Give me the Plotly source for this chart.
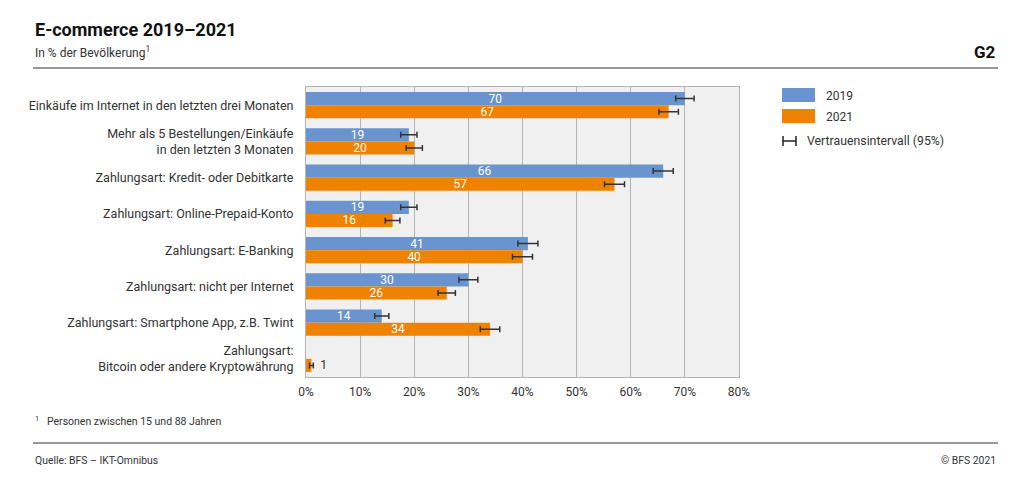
import plotly.graph_objects as go

categories = [
    "Einkäufe im Internet in den letzten drei Monaten",
    "Mehr als 5 Bestellungen/Einkäufe<br>in den letzten 3 Monaten",
    "Zahlungsart: Kredit- oder Debitkarte",
    "Zahlungsart: Online-Prepaid-Konto",
    "Zahlungsart: E-Banking",
    "Zahlungsart: nicht per Internet",
    "Zahlungsart: Smartphone App, z.B. Twint",
    "Zahlungsart:<br>Bitcoin oder andere Kryptowährung",
]
values_2019 = [70, 19, 66, 19, 41, 30, 14]          # no value for the last category
ci_2019 = [1.7, 1.5, 1.85, 1.5, 1.85, 1.75, 1.3]
values_2021 = [67, 20, 57, 16, 40, 26, 34, 1]
ci_2021 = [1.8, 1.5, 1.85, 1.35, 1.85, 1.6, 1.8, 0.35]
x_ticks = [0, 10, 20, 30, 40, 50, 60, 70, 80]

BLUE = "#6a94cd"
ORANGE = "#ef8200"
FONT = "Roboto"

OFF = 8  # page body margin
W, H = 1032 - OFF, 493 - OFF
L, R, T, B = 306 - OFF, 739 - OFF, 87 - OFF, 377 - OFF


def px(x):
    return (x - OFF - L) / (R - L)


def py(y):
    return (B - (y - OFF)) / (B - T)


def pos(v):
    return "inside" if v >= 5 else "outside"


fig = go.Figure()
fig.add_trace(go.Bar(
    y=categories[:len(values_2019)], x=values_2019, orientation="h", name="2019",
    marker=dict(color=BLUE, line=dict(width=0)),
    error_x=dict(type="data", array=ci_2019, color="#333", thickness=1.5, width=3),
    text=[str(v) for v in values_2019], textposition=[pos(v) for v in values_2019],
    textangle=0, insidetextanchor="middle", constraintext="none",
    insidetextfont=dict(color="white", size=12, family=FONT),
    outsidetextfont=dict(color="#333", size=12, family=FONT),
    cliponaxis=False,
))
fig.add_trace(go.Bar(
    y=categories, x=values_2021, orientation="h", name="2021",
    marker=dict(color=ORANGE, line=dict(width=0)),
    error_x=dict(type="data", array=ci_2021, color="#333", thickness=1.5, width=3),
    text=[str(v) if pos(v) == "inside" else "  " + str(v) for v in values_2021],
    textposition=[pos(v) for v in values_2021],
    textangle=0, insidetextanchor="middle", constraintext="none",
    insidetextfont=dict(color="white", size=12, family=FONT),
    outsidetextfont=dict(color="#333", size=12, family=FONT),
    cliponaxis=False,
))

shapes = []
annotations = []

# header
annotations.append(dict(xref="paper", yref="paper", x=px(33), y=py(30), xanchor="left", yanchor="middle",
                        text="<b>E-commerce 2019–2021</b>", showarrow=False,
                        font=dict(family=FONT, size=18, color="#111")))
annotations.append(dict(xref="paper", yref="paper", x=px(33), y=py(52), xanchor="left", yanchor="middle",
                        text="In % der Bevölkerung<sup>1</sup>", showarrow=False,
                        font=dict(family=FONT, size=12, color="#333")))
annotations.append(dict(xref="paper", yref="paper", x=px(998), y=py(52), xanchor="right", yanchor="middle",
                        text="<b>G2</b>", showarrow=False,
                        font=dict(family=FONT, size=17, color="#111")))
shapes.append(dict(type="line", xref="paper", yref="paper", x0=px(33), x1=px(998), y0=py(68), y1=py(68),
                   line=dict(color="#333", width=1.2)))

# legend
shapes.append(dict(type="rect", xref="paper", yref="paper", x0=px(782), x1=px(815), y0=py(88), y1=py(102),
                   fillcolor=BLUE, line=dict(width=0)))
shapes.append(dict(type="rect", xref="paper", yref="paper", x0=px(782), x1=px(815), y0=py(109), y1=py(123),
                   fillcolor=ORANGE, line=dict(width=0)))
annotations.append(dict(xref="paper", yref="paper", x=px(824), y=py(96), xanchor="left", yanchor="middle",
                        text="2019", showarrow=False, font=dict(family=FONT, size=12, color="#333")))
annotations.append(dict(xref="paper", yref="paper", x=px(824), y=py(117), xanchor="left", yanchor="middle",
                        text="2021", showarrow=False, font=dict(family=FONT, size=12, color="#333")))
shapes.append(dict(type="line", xref="paper", yref="paper", x0=px(783), x1=px(796), y0=py(141), y1=py(141),
                   line=dict(color="#222", width=1.5)))
shapes.append(dict(type="line", xref="paper", yref="paper", x0=px(783), x1=px(783), y0=py(136), y1=py(146),
                   line=dict(color="#222", width=1.5)))
shapes.append(dict(type="line", xref="paper", yref="paper", x0=px(796), x1=px(796), y0=py(136), y1=py(146),
                   line=dict(color="#222", width=1.5)))
annotations.append(dict(xref="paper", yref="paper", x=px(805), y=py(141), xanchor="left", yanchor="middle",
                        text="Vertrauensintervall (95%)", showarrow=False,
                        font=dict(family=FONT, size=12.3, color="#333")))

# footer
annotations.append(dict(xref="paper", yref="paper", x=px(33), y=py(421), xanchor="left", yanchor="middle",
                        text="<sup>1</sup>   Personen zwischen 15 und 88 Jahren", showarrow=False,
                        font=dict(family=FONT, size=10.5, color="#333")))
shapes.append(dict(type="line", xref="paper", yref="paper", x0=px(33), x1=px(998), y0=py(443), y1=py(443),
                   line=dict(color="#333", width=1.2)))
annotations.append(dict(xref="paper", yref="paper", x=px(33), y=py(460), xanchor="left", yanchor="middle",
                        text="Quelle: BFS – IKT-Omnibus", showarrow=False,
                        font=dict(family=FONT, size=10.4, color="#333")))
annotations.append(dict(xref="paper", yref="paper", x=px(998), y=py(460), xanchor="right", yanchor="middle",
                        text="© BFS 2021", showarrow=False,
                        font=dict(family=FONT, size=10.4, color="#333")))

fig.update_layout(
    width=W, height=H,
    margin=dict(l=L, r=W - R, t=T, b=H - B, pad=0),
    paper_bgcolor="white", plot_bgcolor="#f0f0f0",
    barmode="group", bargap=0.28, bargroupgap=0.0,
    showlegend=False,
    font=dict(family=FONT, size=12, color="#333"),
    uniformtext=dict(minsize=12, mode="show"),
    shapes=shapes, annotations=annotations,
    xaxis=dict(range=[0, 80], tickvals=x_ticks, ticktext=[f"{t}%" for t in x_ticks],
               showgrid=True, gridcolor="#b4b4b4", gridwidth=1, zeroline=False,
               showline=True, linecolor="#b4b4b4", linewidth=1, mirror=True,
               ticks="", tickfont=dict(family=FONT, size=12, color="#333"),
               ticklabelstandoff=4, fixedrange=True),
    yaxis=dict(autorange="reversed", showgrid=False, zeroline=False,
               showline=True, linecolor="#b4b4b4", linewidth=1, mirror=True,
               ticks="", tickfont=dict(family=FONT, size=12.5, color="#333"),
               ticklabelstandoff=9, fixedrange=True),
)

fig.write_html("out.html")
